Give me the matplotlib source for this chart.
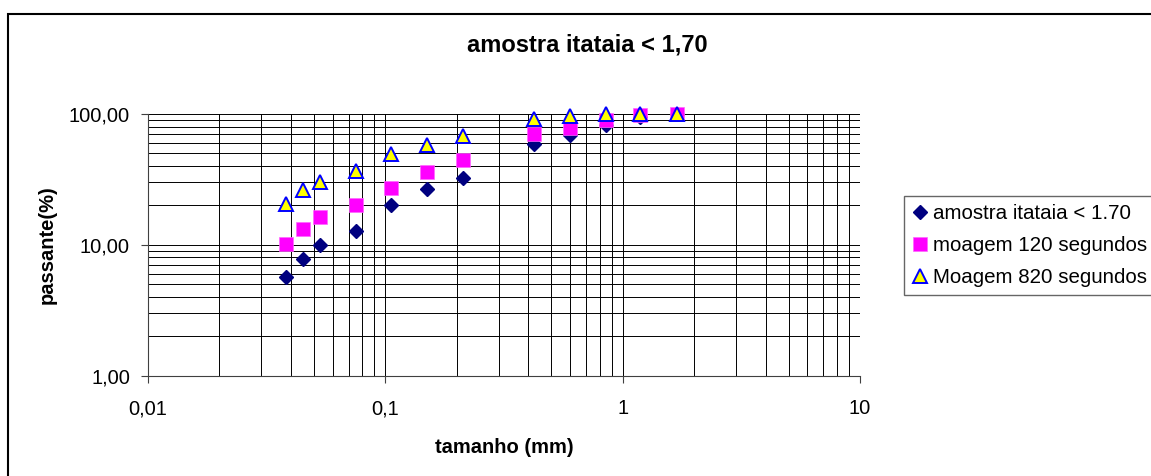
import matplotlib
matplotlib.use("Agg")
import matplotlib.pyplot as plt
from matplotlib.patches import Rectangle
from matplotlib.ticker import FixedLocator, LogLocator, NullFormatter, FuncFormatter

plt.rcParams['font.family'] = ['Liberation Sans', 'DejaVu Sans']

# abertura das peneiras (mm)
tamanho = [0.038, 0.045, 0.053, 0.075, 0.106, 0.150, 0.212, 0.425, 0.600, 0.850, 1.18, 1.70]

# passante acumulado (%)
amostra = [5.7, 7.8, 10.0, 12.8, 20.1, 26.5, 32.4, 58.5, 68.5, 82.0, 94.5, 100.0]
moagem_120 = [10.2, 13.3, 16.3, 20.0, 27.2, 36.1, 44.4, 70.2, 77.7, 90.4, 98.3, 100.0]
moagem_820 = [20.4, 26.0, 30.3, 36.6, 49.6, 58.2, 67.5, 91.9, 96.9, 99.2, 100.0, 100.0]

x_ticks = [0.01, 0.1, 1, 10]
y_ticks = [1, 10, 100]

W, H = 1151, 476
fig = plt.figure(figsize=(W / 100, H / 100), dpi=100)
ax = fig.add_axes([148 / W, 1 - 375.5 / H, (860 - 148) / W, (375.5 - 114) / H])

ax.set_xscale('log')
ax.set_yscale('log')
ax.set_xlim(0.01, 10)
ax.set_ylim(1, 100)

ax.xaxis.set_major_locator(FixedLocator(x_ticks))
ax.yaxis.set_major_locator(FixedLocator(y_ticks))
ax.xaxis.set_minor_locator(LogLocator(base=10, subs=range(2, 10)))
ax.yaxis.set_minor_locator(LogLocator(base=10, subs=range(2, 10)))
ax.xaxis.set_minor_formatter(NullFormatter())
ax.yaxis.set_minor_formatter(NullFormatter())
ax.xaxis.set_major_formatter(FuncFormatter(lambda v, p: f"{v:g}".replace('.', ',')))
ax.yaxis.set_major_formatter(FuncFormatter(lambda v, p: f"{v:.2f}".replace('.', ',')))

ax.grid(True, which='both', color='black', linewidth=0.7)
ax.set_axisbelow(True)
for s in ['top', 'right']:
    ax.spines[s].set_visible(False)
for s in ['left', 'bottom']:
    ax.spines[s].set_color('#404040')
    ax.spines[s].set_linewidth(0.8)
ax.tick_params(which='major', direction='out', length=5, width=0.8, color='#404040',
               labelsize=14.5)
ax.tick_params(which='minor', length=0)
ax.tick_params(axis='x', pad=12)
ax.tick_params(axis='y', pad=8)

ax.plot(tamanho, amostra, linestyle='none', marker='D', markersize=7.6,
        color='#000080', label='amostra itataia < 1.70', clip_on=False, zorder=3)
ax.plot(tamanho, moagem_120, linestyle='none', marker='s', markersize=10.5,
        markerfacecolor='#FF00FF', markeredgecolor='#FF66FF', markeredgewidth=0.5,
        label='moagem 120 segundos', clip_on=False, zorder=4)
ax.plot(tamanho, moagem_820, linestyle='none', marker='^', markersize=9.5,
        markerfacecolor='#FFFF00', markeredgecolor='#0000FF', markeredgewidth=1.4,
        label='Moagem 820 segundos', clip_on=False, zorder=5)

ax.set_xlabel('tamanho (mm)', fontsize=14.5, fontweight='bold', labelpad=14)
ax.set_ylabel('passante(%)', fontsize=14.5, fontweight='bold', labelpad=9)

fig.text(587 / W, 1 - 45 / H, 'amostra itataia < 1,70', ha='center', va='center',
         fontsize=17, fontweight='bold')

leg = fig.legend(loc='upper left', bbox_to_anchor=(904 / W, 1 - 196 / H),
                 frameon=True, fancybox=False, fontsize=14.8, handlelength=0.8,
                 handletextpad=0.2, borderpad=0.4, labelspacing=0.62, borderaxespad=0)
leg.get_frame().set_edgecolor('#404040')
leg.get_frame().set_linewidth(1.0)

fig.patches.append(Rectangle((8 / W, -0.05), 1.2, 1 - 14 / H + 0.05, transform=fig.transFigure,
                             fill=False, edgecolor='black', linewidth=1.5))

fig.savefig('out.png', dpi=100)
